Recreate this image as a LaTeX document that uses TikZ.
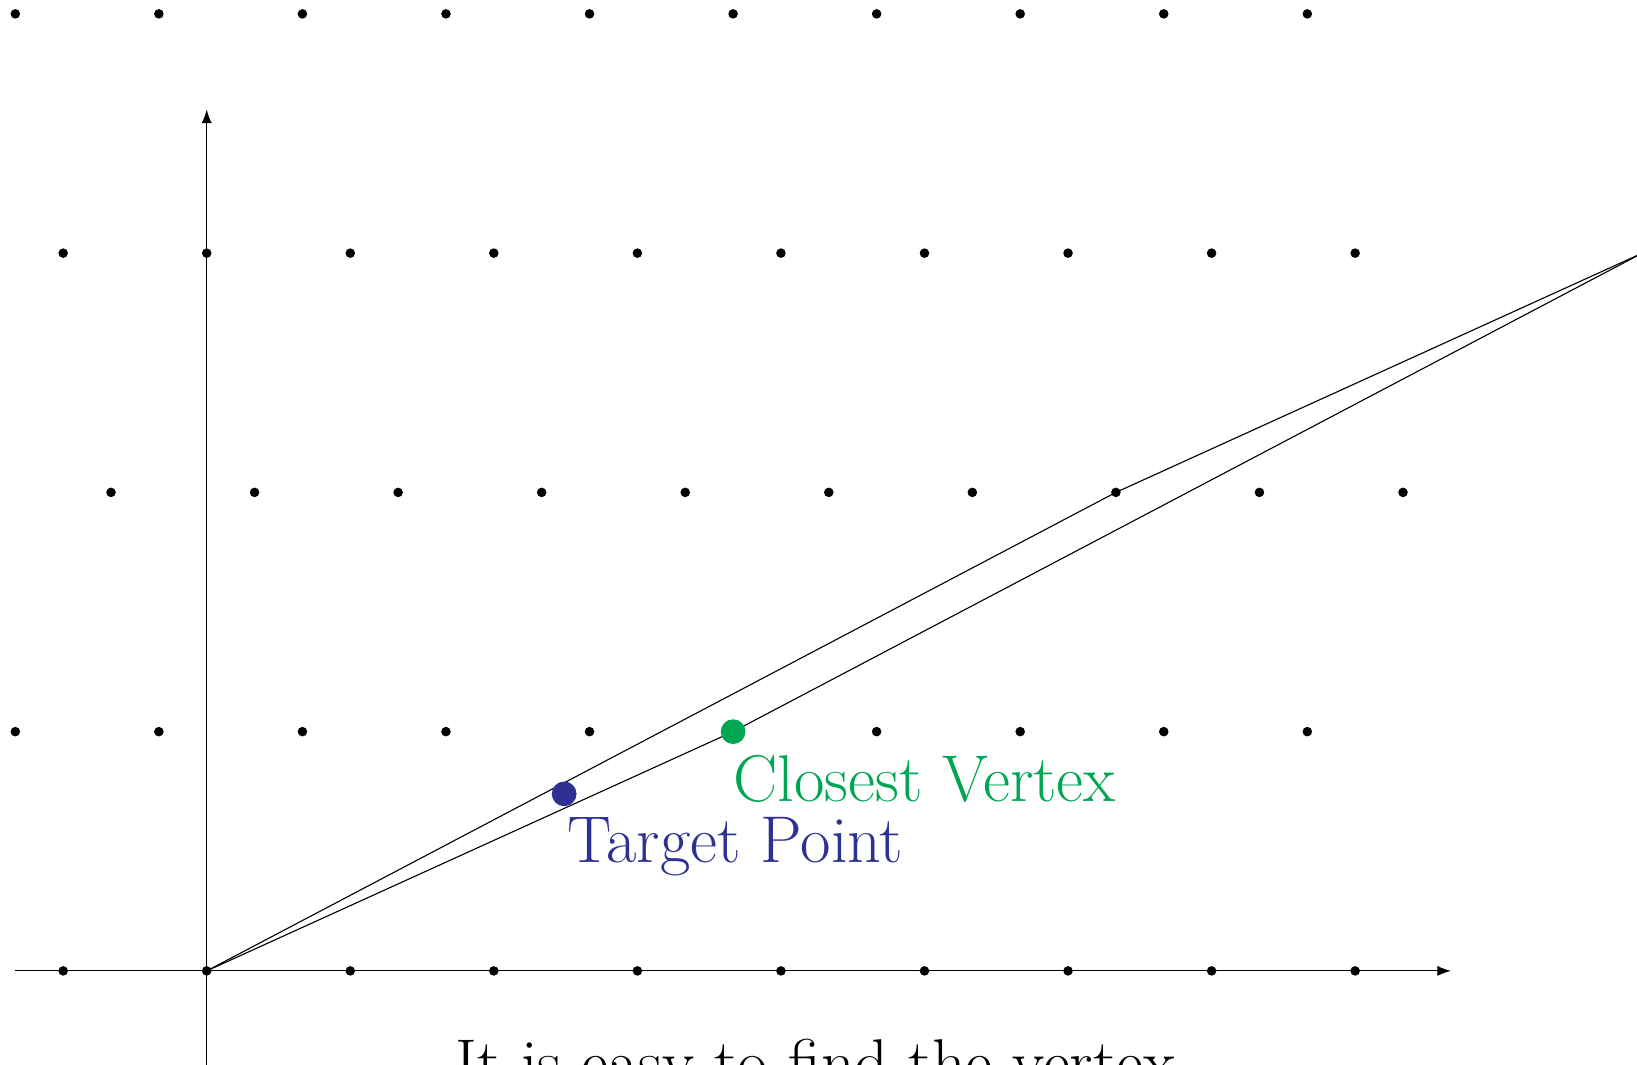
\documentclass[tikz,border=0pt]{standalone}
\usepackage{tikz}
\usetikzlibrary{arrows.meta}
\definecolor{vblue}{HTML}{2E3192}
\definecolor{vgreen}{HTML}{00A651}
\tikzset{
  every picture/.style={line join=round, line cap=round, >=Latex},
  bigpt/.style={circle, inner sep=0pt, minimum size=0.31cm},
  lab/.style={font=\fontsize{23.6}{28}\selectfont, inner sep=0pt, anchor=base west},
}

\begin{document}
\begin{tikzpicture}[x=0.6cm,y=0.6cm]
\useasboundingbox (-4.32,-1.964) rectangle (29.89,20.29);
% axes
\draw[->] (-4,0)--(26,0);
\draw[->] (0,-3)--(0,18);
% lattice rows
\foreach \j/\s in {0/-3,1/-4,2/-2,3/-3,4/-4}{
  \foreach \k in {0,...,9}{\fill (\s+3*\k,5*\j) circle(0.1);}
}
% cell
\coordinate (O) at (0,0);
\coordinate (cv) at (11,5);
\coordinate (far) at (30,15);
\coordinate (v2) at (19,10);
\draw (O)--(cv)--(far);
\draw (O)--(v2)--(far);
% points
\node[bigpt, fill=vgreen] (cvdot) at (cv) {};
\node[bigpt, fill=vblue] (tpdot) at (7.47,3.7) {};
\node[lab, text=vgreen] (cvlab) at (11.0,3.53) {Closest Vertex};
\node[lab, text=vblue] (tplab) at (7.53,2.27) {Target Point};
\node[lab, anchor=base] (note) at (12.73,-2.4) {It is easy to find the vertex};
\end{tikzpicture}
\end{document}
